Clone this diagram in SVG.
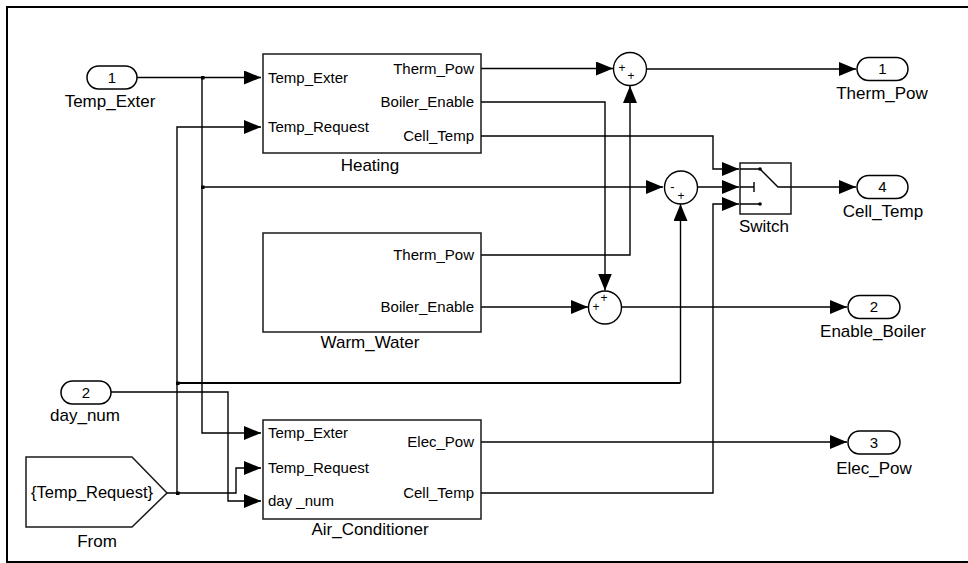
<svg xmlns="http://www.w3.org/2000/svg" width="968" height="563" viewBox="0 0 968 563">
<style>
.blk{fill:#fff;stroke:#1a1a1a;stroke-width:1.5}
.port{fill:#fff;stroke:#000;stroke-width:1.5}
.ln{fill:none;stroke:#000;stroke-width:1.4}
.ln2{fill:none;stroke:#000;stroke-width:2.2}
.pl{font-family:"Liberation Sans",Arial,sans-serif;font-size:15px;fill:#000}
.lb{font-family:"Liberation Sans",Arial,sans-serif;font-size:17px;fill:#000;text-anchor:middle}
.num{font-family:"Liberation Sans",Arial,sans-serif;font-size:15px;fill:#000;text-anchor:middle}
.sg{font-family:"Liberation Sans",Arial,sans-serif;font-size:12px;fill:#000;text-anchor:middle}
.r{text-anchor:end}
</style>
<defs>
<marker id="ar" markerUnits="userSpaceOnUse" markerWidth="17" markerHeight="14" refX="17" refY="7" orient="auto" viewBox="0 0 17 14">
<path d="M0,0 L17,7 L0,14 Z" fill="#000"/>
</marker>
</defs>
<rect width="968" height="563" fill="#fff"/>
<path d="M968,7 H7 V562 H968" fill="none" stroke="#000" stroke-width="2"/>

<g id="connectors">
<path class="ln" d="M137,77.5 H261" marker-end="url(#ar)"/>
<path class="ln" d="M202,77.5 V433 H261" marker-end="url(#ar)"/>
<path class="ln" d="M202,187 H663" marker-end="url(#ar)"/>
<path class="ln" d="M167,493 H236 V468 H261" marker-end="url(#ar)"/>
<path class="ln" d="M177,493 V127 H261" marker-end="url(#ar)"/>
<path class="ln2" d="M177,383 H680.5"/>
<path class="ln" d="M680.5,383 V204" marker-end="url(#ar)"/>
<path class="ln" d="M111,392 H228 V501 H261" marker-end="url(#ar)"/>
<path class="ln" d="M481,68.5 H613" marker-end="url(#ar)"/>
<path class="ln" d="M481,102 H605 V290.5" marker-end="url(#ar)"/>
<path class="ln" d="M481,136 H713 V169 H739" marker-end="url(#ar)"/>
<path class="ln" d="M481,255 H630 V86" marker-end="url(#ar)"/>
<path class="ln" d="M481,307 H588" marker-end="url(#ar)"/>
<path class="ln" d="M646.5,69 H856" marker-end="url(#ar)"/>
<path class="ln" d="M697.5,187 H739" marker-end="url(#ar)"/>
<path class="ln" d="M621.5,307 H847" marker-end="url(#ar)"/>
<path class="ln" d="M791,187 H856" marker-end="url(#ar)"/>
<path class="ln" d="M481,442 H847" marker-end="url(#ar)"/>
<path class="ln" d="M481,493 H713 V204 H739" marker-end="url(#ar)"/>
<rect x="201" y="76" width="3.5" height="3.5" fill="#000"/>
<rect x="201" y="185.5" width="3.5" height="3.5" fill="#000"/>
<rect x="176" y="381.5" width="3.5" height="3.5" fill="#000"/>
<rect x="176" y="491.5" width="3.5" height="3.5" fill="#000"/>
</g>

<g id="in_Temp_Exter">
<rect class="port" x="87" y="66" width="50" height="23" rx="11.5"/>
<text class="num" x="112" y="82.5">1</text>
<text class="lb" x="110" y="107">Temp_Exter</text>
</g>
<g id="in_day_num">
<rect class="port" x="61" y="381" width="50" height="23" rx="11.5"/>
<text class="num" x="86" y="397.5">2</text>
<text class="lb" x="85" y="421">day_num</text>
</g>
<g id="From">
<polygon class="blk" points="26,457 132,457 167,493 132,527 26,527"/>
<text class="lb" x="92" y="498" style="font-size:16.5px">{Temp_Request}</text>
<text class="lb" x="97" y="547">From</text>
</g>

<g id="Heating">
<rect class="blk" x="263" y="54" width="218" height="99"/>
<text class="pl" x="268" y="82.5">Temp_Exter</text>
<text class="pl" x="268" y="132">Temp_Request</text>
<text class="pl r" x="474" y="73.5">Therm_Pow</text>
<text class="pl r" x="474" y="107">Boiler_Enable</text>
<text class="pl r" x="474" y="141">Cell_Temp</text>
<text class="lb" x="370" y="171">Heating</text>
</g>
<g id="Warm_Water">
<rect class="blk" x="263" y="233" width="218" height="99"/>
<text class="pl r" x="474" y="260">Therm_Pow</text>
<text class="pl r" x="474" y="312">Boiler_Enable</text>
<text class="lb" x="370" y="348">Warm_Water</text>
</g>
<g id="Air_Conditioner">
<rect class="blk" x="263" y="420" width="218" height="99"/>
<text class="pl" x="268" y="438">Temp_Exter</text>
<text class="pl" x="268" y="472.5">Temp_Request</text>
<text class="pl" x="268" y="506">day _num</text>
<text class="pl r" x="474" y="447">Elec_Pow</text>
<text class="pl r" x="474" y="498">Cell_Temp</text>
<text class="lb" x="370" y="535">Air_Conditioner</text>
</g>

<g id="Sum1">
<circle class="ln" cx="630" cy="69" r="16.5"/>
<text class="sg" x="622" y="72">+</text>
<text class="sg" x="631" y="80">+</text>
</g>
<g id="Sum2">
<circle class="ln" cx="681" cy="187.5" r="16.5"/>
<text class="sg" x="672.5" y="191" style="font-size:13px">-</text>
<text class="sg" x="681" y="200">+</text>
</g>
<g id="Sum3">
<circle class="ln" cx="605" cy="307.5" r="16.5"/>
<text class="sg" x="596" y="311">+</text>
<text class="sg" x="604" y="302">+</text>
</g>

<g id="Switch">
<rect class="blk" x="740" y="163" width="51" height="51"/>
<path class="ln" d="M740,169 H760 L778,187 H791 M740,187 H754 M754,182 V192 M740,204 H760"/>
<circle cx="760" cy="169" r="1.8" fill="#000"/>
<circle cx="760" cy="204" r="1.8" fill="#000"/>
<text class="lb" x="764" y="232">Switch</text>
</g>

<g id="out_Therm_Pow">
<rect class="port" x="857" y="57.5" width="51" height="23" rx="11.5"/>
<text class="num" x="882.5" y="74">1</text>
<text class="lb" x="882" y="99">Therm_Pow</text>
</g>
<g id="out_Cell_Temp">
<rect class="port" x="857" y="175.5" width="51" height="23" rx="11.5"/>
<text class="num" x="882.5" y="192">4</text>
<text class="lb" x="883" y="217">Cell_Temp</text>
</g>
<g id="out_Enable_Boiler">
<rect class="port" x="848" y="295.5" width="52" height="23" rx="11.5"/>
<text class="num" x="874" y="312">2</text>
<text class="lb" x="873" y="337">Enable_Boiler</text>
</g>
<g id="out_Elec_Pow">
<rect class="port" x="848" y="431" width="52" height="23" rx="11.5"/>
<text class="num" x="874" y="447.5">3</text>
<text class="lb" x="874" y="474">Elec_Pow</text>
</g>
</svg>
